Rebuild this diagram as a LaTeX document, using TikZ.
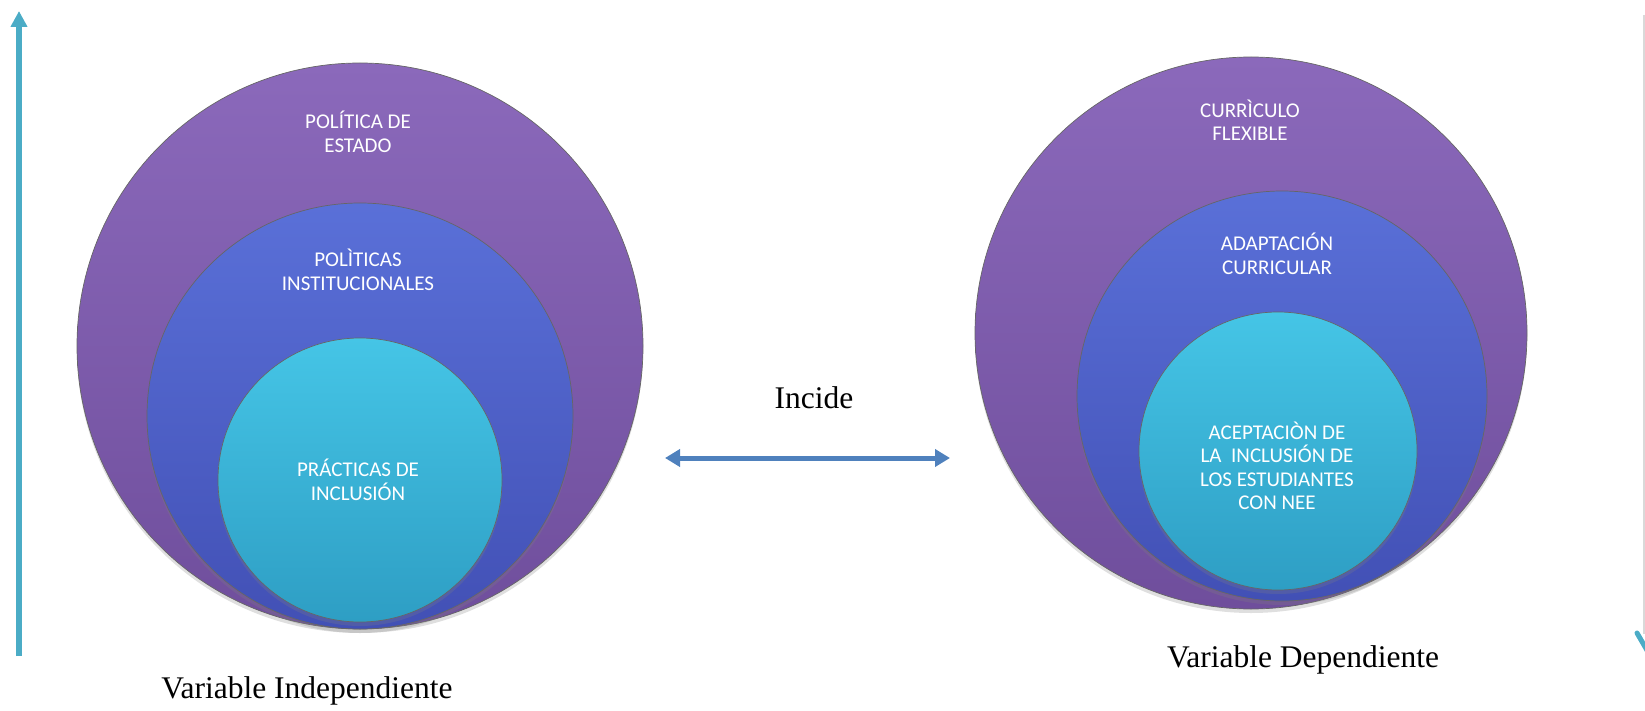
\documentclass[tikz,border=0pt]{standalone}
\usepackage{fontspec}
\setmainfont{Liberation Serif}
\newfontfamily\calibri{Carlito}
\usetikzlibrary{arrows.meta,shadows}
\definecolor{Aqua}{HTML}{4BACC6}
\definecolor{Steel}{HTML}{4F81BD}
\definecolor{PurpleTop}{HTML}{8B69BB}
\definecolor{PurpleBot}{HTML}{6F4E9C}
\definecolor{BlueTop}{HTML}{5A70D8}
\definecolor{BlueBot}{HTML}{4250B5}
\definecolor{CyanTop}{HTML}{45C5E6}
\definecolor{CyanBot}{HTML}{2E9EC4}
\tikzset{
  ring/.style={circle,draw=black!60,line width=0.7pt,inner sep=0pt,
    drop shadow={shadow xshift=0pt,shadow yshift=-4pt,opacity=0.25}},
  outerring/.style={ring,top color=PurpleTop,bottom color=PurpleBot},
  midring/.style={ring,top color=BlueTop,bottom color=BlueBot},
  innerring/.style={ring,top color=CyanTop,bottom color=CyanBot},
  tag/.style={text=white,align=center,font=\calibri\fontsize{21}{23.5}\selectfont},
  caption/.style={font=\fontsize{31.5}{36}\selectfont}
}
\begin{document}
\begin{tikzpicture}[x=1pt,y=-1pt]
       \useasboundingbox(0,0)rectangle(1645,711);
       \clip(0,0)rectangle(1645,711);
       \coordinate(AxisBottom)at(19,656);
       \coordinate(AxisTop)at(19,11);
       \coordinate(EdgeTop)at(1644,15);
       \coordinate(EdgeBottom)at(1644,634);
       \coordinate(TickStart)at(1637,633);
       \coordinate(TickEnd)at(1648,652);
       \coordinate(IncLeft)at(665,458);
       \coordinate(IncRight)at(950,458);
       % variable independiente
       \node[outerring,minimum size=566pt](EstadoL)at(360,346){};
       \node[midring,minimum size=426pt](InstL)at(360,416){};
       \node[innerring,minimum size=284pt](PracL)at(360,480){};
       \node[tag](EstadoText)at(358,132){POLÍTICA DE\\ESTADO};
       \node[tag](InstText)at(358,270){POLÌTICAS\\INSTITUCIONALES};
       \node[tag](PracText)at(358,480){PRÁCTICAS DE\\INCLUSIÓN};
       % variable dependiente
       \node[outerring,minimum size=552pt](CurrR)at(1251,333){};
       \node[midring,minimum size=410pt](AdaptR)at(1282,396){};
       \node[innerring,minimum size=278pt](AceptR)at(1278,451){};
       \node[tag](CurrText)at(1250,120){CURRÌCULO\\FLEXIBLE};
       \node[tag](AdaptText)at(1277,254){ADAPTACIÓN\\CURRICULAR};
       \node[tag](AceptText)at(1277,466){ACEPTACIÒN DE\\LA\ \ INCLUSIÓN DE\\LOS ESTUDIANTES\\CON NEE};
       % captions
       \node[caption](Indep)at(307,691){Variable Independiente};
       \node[caption](Dep)at(1303,660){Variable Dependiente};
       \node[caption](Incide)at(814,398){Incide};
       % arrows
       \draw[Aqua,line width=6pt,-{Triangle[width=16pt,length=16pt]}](AxisBottom)--(AxisTop);
       \draw[Steel,line width=5pt,{Triangle[width=17pt,length=15pt]}-{Triangle[width=17pt,length=15pt]}](IncLeft)--(IncRight);
       \draw[black!15,line width=1.2pt](EdgeTop)--(EdgeBottom);
       \draw[Aqua,line width=5pt,line cap=round](TickStart)--(TickEnd);
      \end{tikzpicture}
\end{document}
